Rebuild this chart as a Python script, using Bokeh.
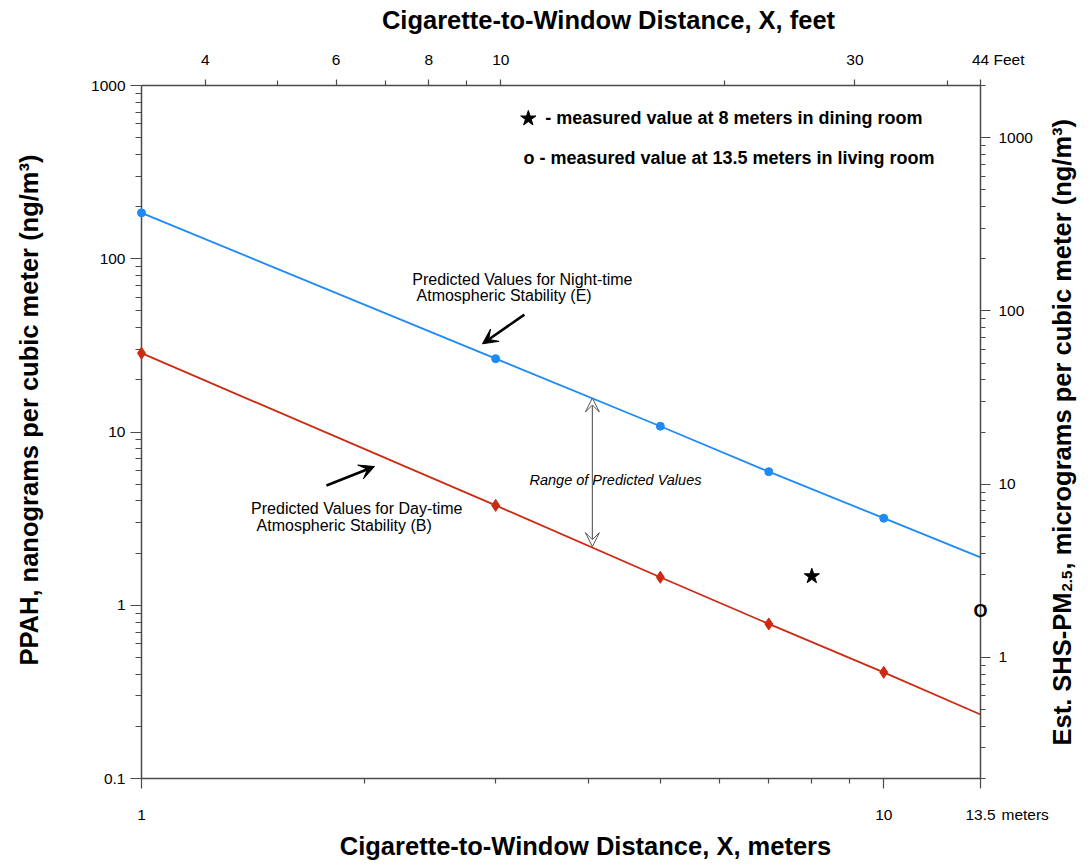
import math
from bokeh.plotting import figure
from bokeh.models import (Range1d, LogScale, LogAxis, FixedTicker, Label, Arrow, VeeHead)
from bokeh.core.properties import value
from bokeh.embed import file_html
from bokeh.resources import INLINE

# ---------------- data ----------------
distance_m = [1, 3, 5, 7, 10]                      # marker positions, meters
night_E = [184, 26.5, 10.8, 5.9, 3.18]            # PPAH ng/m3, stability E (night)
day_B = [28.5, 3.77, 1.45, 0.78, 0.41]             # PPAH ng/m3, stability B (day)
curve_x = [1, 3, 5, 7, 10, 13.5]                   # prediction curves, meters
night_curve = [184, 26.5, 10.8, 5.9, 3.18, 1.89]
day_curve = [28.5, 3.77, 1.45, 0.78, 0.41, 0.234]
measured_x = [8, 13.5]                             # meters
measured_pm = [2.94, 1.85]                         # SHS-PM2.5 (right axis units)

x_ticks = [1, 10, 13.5]
x_tick_labels = ["1", "10", "13.5"]
x_minor = [2, 3, 4, 5, 6, 7, 8, 9]
feet_ticks = [4, 6, 8, 10, 30]
feet_tick_labels = ["4", "6", "8", "10", "30"]
feet_minor = [5, 7, 9, 20, 40]
y_ticks = [0.1, 1, 10, 100, 1000]
y_tick_labels = ["0.1", "1", "10", "100", "1000"]
pm_ticks = [1, 10, 100, 1000]
pm_tick_labels = ["1", "10", "100", "1000"]

M_TO_FT = 3.28084
PM_PER_PPAH = 2.0
X_MIN, X_MAX = 1, 13.5
Y_MIN, Y_MAX = 0.1, 1000

# ---------------- styles ----------------
FONT = "Liberation Sans"
BLUE = "#1e8af5"
RED = "#cc2a12"
AXIS = "#4a4a4a"
TICK_FS = "15.5px"
TITLE_FS = "25.5px"

p = figure(x_axis_type="log", y_axis_type="log",
           x_range=Range1d(X_MIN, X_MAX), y_range=Range1d(Y_MIN, Y_MAX),
           frame_width=839, frame_height=693,
           min_border_left=141, min_border_right=110,
           min_border_top=85, min_border_bottom=87,
           output_backend="svg", toolbar_location=None,
           background_fill_color="white", border_fill_color="white")
p.outline_line_color = None
p.xgrid.grid_line_color = None
p.ygrid.grid_line_color = None

p.extra_x_ranges = {"feet": Range1d(X_MIN * M_TO_FT, X_MAX * M_TO_FT)}
p.extra_x_scales = {"feet": LogScale()}
p.extra_y_ranges = {"pm": Range1d(Y_MIN * PM_PER_PPAH, Y_MAX * PM_PER_PPAH)}
p.extra_y_scales = {"pm": LogScale()}


def style_axis(ax, major_out, minor_out, standoff):
    ax.axis_line_color = AXIS
    ax.axis_line_width = 1.5
    ax.major_tick_line_color = AXIS
    ax.minor_tick_line_color = AXIS
    ax.major_tick_line_width = 1.2
    ax.minor_tick_line_width = 1.2
    ax.major_tick_in = 0
    ax.minor_tick_in = 0
    ax.major_tick_out = major_out
    ax.minor_tick_out = minor_out
    ax.major_label_standoff = standoff
    ax.major_label_text_font = FONT
    ax.major_label_text_font_size = TICK_FS
    ax.major_label_text_color = "black"


xb = p.xaxis[0]
xb.ticker = FixedTicker(ticks=x_ticks, minor_ticks=x_minor)
xb.major_label_overrides = dict(zip(x_ticks, x_tick_labels))
style_axis(xb, 10, 5, 21)

yl = p.yaxis[0]
y_minor = [m * 10.0 ** e for e in range(-1, 3) for m in range(2, 10)]
yl.ticker = FixedTicker(ticks=y_ticks, minor_ticks=y_minor)
yl.major_label_overrides = dict(zip(y_ticks, y_tick_labels))
style_axis(yl, 11, 6, 5)

feet_end = X_MAX * M_TO_FT
top_ticks = feet_ticks + [feet_end]
xt = LogAxis(x_range_name="feet",
             ticker=FixedTicker(ticks=top_ticks, minor_ticks=feet_minor))
xt.major_label_overrides = dict(zip(top_ticks, feet_tick_labels + ["44"]))
style_axis(xt, 6, 5, 15)
p.add_layout(xt, "above")

pm_minor = [m * 10.0 ** e for e in range(-1, 4) for m in range(2, 10)
            if Y_MIN * PM_PER_PPAH <= m * 10.0 ** e <= Y_MAX * PM_PER_PPAH]
yr = LogAxis(y_range_name="pm", ticker=FixedTicker(ticks=pm_ticks, minor_ticks=pm_minor))
yr.major_label_overrides = dict(zip(pm_ticks, pm_tick_labels))
style_axis(yr, 10, 5, 8)
p.add_layout(yr, "right")

# ---------------- curves and points ----------------
p.line(curve_x, night_curve, line_color=BLUE, line_width=1.8)
p.line(curve_x, day_curve, line_color=RED, line_width=1.8)
p.scatter(distance_m, night_E, marker="circle", size=8, fill_color=BLUE,
          line_color=BLUE, level="overlay")
p.scatter(distance_m, day_B, marker="diamond", size=12, fill_color=RED,
          line_color=RED, level="overlay")

p.scatter([measured_x[0]], [measured_pm[0]], y_range_name="pm", marker="star",
          size=16, fill_color="black", line_color="black", level="overlay")
p.text([measured_x[1]], [measured_pm[1]], text=["O"], y_range_name="pm",
       text_align="center", text_baseline="middle", text_font=value(FONT),
       text_font_style="bold", text_font_size="18px", text_color="black",
       level="overlay")

# ---------------- legend (top right) ----------------
p.scatter([3.32], [645], marker="star", size=16, fill_color="black",
          line_color="black", level="overlay")
p.add_layout(Label(x=3.50, y=645, text="- measured value at 8 meters in dining room",
                   text_font=FONT, text_font_style="bold", text_font_size="18px",
                   text_baseline="middle", text_align="left", text_color="black"))
p.add_layout(Label(x=3.27, y=384, text="o - measured value at 13.5 meters in living room",
                   text_font=FONT, text_font_style="bold", text_font_size="18px",
                   text_baseline="middle", text_align="left", text_color="black"))

# ---------------- in-plot annotations ----------------
def note(x, y, txt, size="16px", style="normal"):
    p.add_layout(Label(x=x, y=y, text=txt, text_font=FONT, text_font_size=size,
                       text_font_style=style, text_baseline="middle",
                       text_align="left", text_color="black"))

note(2.316, 75.9, "Predicted Values for Night-time")
note(2.347, 61.4, "Atmospheric Stability (E)")
note(1.405, 3.617, "Predicted Values for Day-time")
note(1.429, 2.886, "Atmospheric Stability (B)")
note(3.332, 5.25, "Range of Predicted Values", size="14.5px", style="italic")

p.add_layout(Arrow(x_start=3.28, y_start=47.6, x_end=2.88, y_end=32.3,
                   line_color="black", line_width=2.5,
                   end=VeeHead(size=15, fill_color="black", line_color="black")))
p.add_layout(Arrow(x_start=1.775, y_start=4.91, x_end=2.06, y_end=6.32,
                   line_color="black", line_width=2.5,
                   end=VeeHead(size=15, fill_color="black", line_color="black")))
p.add_layout(Arrow(x_start=4.05, y_start=9.0, x_end=4.05, y_end=15.7,
                   line_color="#666666", line_width=1.2,
                   end=VeeHead(size=14, fill_color="white", line_color="#555555",
                               line_width=1)))
p.add_layout(Arrow(x_start=4.05, y_start=9.0, x_end=4.05, y_end=2.18,
                   line_color="#666666", line_width=1.2,
                   end=VeeHead(size=14, fill_color="white", line_color="#555555",
                               line_width=1)))

# ---------------- axis titles and unit words ----------------
# drawn as overlay-level text glyphs anchored at the frame's bottom-left
# corner and shifted in pixels, so they are not clipped to the frame
def title(dx, dy, txt, size=TITLE_FS, angle=0.0, align="center", style="bold"):
    p.text(x=[X_MIN], y=[Y_MIN], text=[txt], x_offset=dx, y_offset=dy,
           angle=angle, text_font=value(FONT), text_font_size=size,
           text_font_style=style, text_align=align,
           text_baseline="alphabetic", text_color="black", level="overlay")

title(467, -759, "Cigarette-to-Window Distance, X, feet")
title(444, 67, "Cigarette-to-Window Distance, X, meters")
title(-113, -368.5, "PPAH, nanograms per cubic meter (ng/m\u00b3)", angle=math.pi / 2)
title(920, -186, "Est. SHS-PM", angle=math.pi / 2, align="right")
title(925, -187, "2.5", size="15px", angle=math.pi / 2, align="left")
title(920, -209, ", micrograms per cubic meter (ng/m\u00b3)", angle=math.pi / 2, align="left")
title(860, 36, "meters", size=TICK_FS, style="normal", align="left")
title(852, -719, "Feet", size=TICK_FS, style="normal", align="left")

open("out.html", "w").write(file_html(p, INLINE))
